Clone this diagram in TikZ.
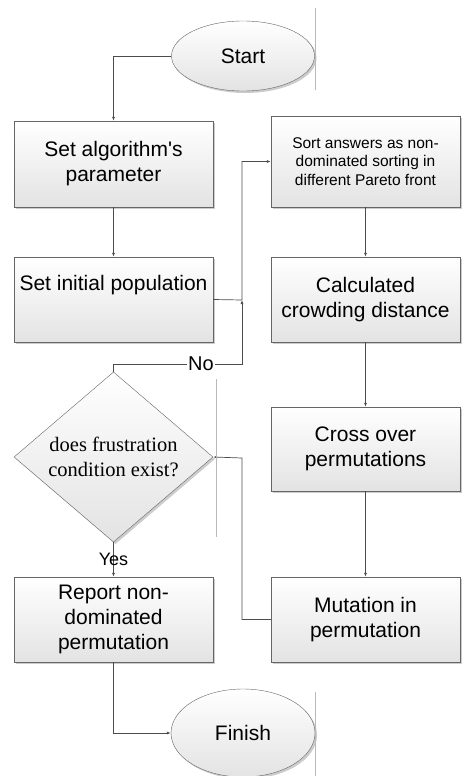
\documentclass[tikz,border=0pt]{standalone}
\usepackage{fontspec}
\setmainfont{Liberation Sans}
\newfontfamily\serifface{Liberation Serif}
\usetikzlibrary{shapes.geometric,arrows.meta,shadows}
\tikzset{
    stepbox/.style={draw=gray!80!black, rectangle, align=center,
        top color=white, bottom color=gray!22, font=\fontsize{21}{25}\selectfont,
        drop shadow={shadow xshift=2pt, shadow yshift=-2pt, fill=gray!40, opacity=1}},
    endbox/.style={stepbox, ellipse},
    askbox/.style={stepbox, diamond, inner sep=0pt,
        font=\serifface\fontsize{20.5}{25}\selectfont},
    flow/.style={draw=gray!60!black, line width=0.7pt,
        -{Latex[length=4pt,width=3pt]}},
    stray/.style={draw=gray!55, line width=0.6pt}
}
\begin{document}
\begin{tikzpicture}[x=1pt, y=-1pt]
\useasboundingbox (0,0) rectangle (461,776);
\node[endbox, minimum width=143pt, minimum height=70pt](start_ell)at(243,56){Start};
\node[stepbox, minimum width=199pt, minimum height=86pt](param_rec)at(113.5,164){Set algorithm\textquotesingle s\\parameter};
\node[stepbox, minimum width=199pt, minimum height=85pt](popul_rec)at(113.5,299.5){Set initial population\\\strut};
\node[askbox, minimum width=199pt, minimum height=158pt](ask_dia)at(113.5,457){does frustration\\condition exist?};
\node[stepbox, minimum width=199pt, minimum height=85pt](report_rec)at(113.5,619.5){Report non-\\dominated\\permutation};
\node[endbox, minimum width=144pt, minimum height=88pt](finish_ell)at(243,733){Finish};

\node[stepbox, minimum width=189pt, minimum height=91pt,
    font=\fontsize{15.5}{18.5}\selectfont](sort_rec)at(365.5,161.5){Sort answers as non-\\dominated sorting in\\different Pareto front};
\node[stepbox, minimum width=189pt, minimum height=85pt](crowd_rec)at(365.5,299.5){Calculated\\crowding distance};
\node[stepbox, minimum width=189pt, minimum height=84pt](cross_rec)at(365.5,449){Cross over\\permutations};
\node[stepbox, minimum width=189pt, minimum height=85pt](mutat_rec)at(365.5,619.5){Mutation in\\permutation};

%turning points
\coordinate(join)at(242,300);
\coordinate(no_turn)at(242,364);
\coordinate(back)at(242,458);

\draw[flow](start_ell.west)-|(param_rec.north);
\draw[flow](param_rec)--(popul_rec);
\draw[flow](popul_rec.east)--(join)|-(sort_rec.west);
\draw[flow](ask_dia.north)|-node[pos=0.84, fill=white, inner sep=1pt,
    font=\fontsize{20}{24}\selectfont]{No}(no_turn)--(join);
\draw[flow](ask_dia)--node[inner sep=1pt,
    font=\fontsize{18}{22}\selectfont]{Yes}(report_rec);
\draw[flow](report_rec.south)|-(finish_ell.west);
\draw[flow](sort_rec)--(crowd_rec);
\draw[flow](crowd_rec)--(cross_rec);
\draw[flow](cross_rec)--(mutat_rec);
\draw[flow](mutat_rec.west)-|(back)--(ask_dia.east);

%stray lines
\draw[stray](315,8)--(315,90);
\draw[stray](216,379)--(216,537);
\draw[stray](315,692)--(315,776);
\end{tikzpicture}
\end{document}
